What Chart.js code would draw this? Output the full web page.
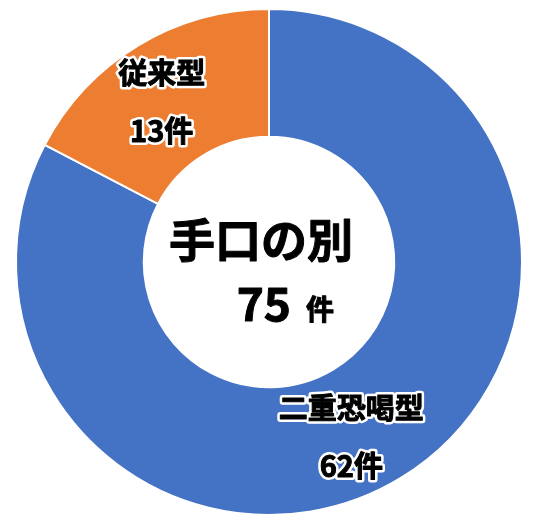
<!DOCTYPE html>
<html>
<head>
<meta charset="utf-8">
<script src="https://cdn.jsdelivr.net/npm/chart.js@4"></script>
<style>
  body { margin: 0; background: #fff; }
  #wrap { width: 536px; height: 527px; }
</style>
</head>
<body>
<div id="wrap"><canvas id="pieChart"></canvas></div>
<script>
var categories = ['二重恐喝型', '従来型'];
var counts = [62, 13];
var colors = ['#4472C4', '#ED7D31'];
var centerTitle = '手口の別';
var unit = '件';

var total = counts.reduce(function (a, b) { return a + b; }, 0);

function heavyText(ctx, t, x, y, halo) {
    if (halo) {
        ctx.strokeStyle = '#fff';
        ctx.lineWidth = halo;
        ctx.strokeText(t, x, y);
    }
    ctx.strokeStyle = '#000';
    ctx.lineWidth = 1;
    ctx.strokeText(t, x, y);
    ctx.fillStyle = '#000';
    ctx.fillText(t, x, y);
}

// ラベル（白縁取り）
var sliceLabels = {
    id: 'sliceLabels',
    afterDatasetsDraw: function (chart) {
        var ctx = chart.ctx;
        var meta = chart.getDatasetMeta(0);
        var shift = [[-16, 13], [-9, 2]];
        ctx.save();
        ctx.textAlign = 'center';
        ctx.textBaseline = 'middle';
        ctx.lineJoin = 'round';
        ctx.font = 'bold 29px "Noto Sans CJK JP"';
        meta.data.forEach(function (arc, i) {
            var mid = (arc.startAngle + arc.endAngle) / 2;
            var r = arc.outerRadius * 0.75;
            var x = arc.x + Math.cos(mid) * r + shift[i][0];
            var y = arc.y + Math.sin(mid) * r + shift[i][1];
            heavyText(ctx, categories[i], x, y - 29, 6);
            heavyText(ctx, counts[i] + unit, x, y + 29, 6);
        });

        // 中央テキスト
        var c = meta.data[0];
        ctx.font = 'bold 46px "Noto Sans CJK JP"';
        heavyText(ctx, centerTitle, c.x - 8, c.y - 22, 0);
        ctx.font = 'bold 46px "Noto Sans CJK JP"';
        ctx.textAlign = 'right';
        heavyText(ctx, String(total), c.x + 22, c.y + 42, 0);
        ctx.font = 'bold 28px "Noto Sans CJK JP"';
        ctx.textAlign = 'left';
        heavyText(ctx, unit, c.x + 37, c.y + 47, 0);
        ctx.restore();
    }
};

var ctxPie = document.getElementById('pieChart').getContext('2d');
var pieChart = new Chart(ctxPie, {
    type: 'doughnut',
    data: {
        labels: categories,
        datasets: [{
            data: counts,
            backgroundColor: colors,
            borderColor: '#fff',
            borderWidth: 2
        }]
    },
    options: {
        responsive: true,
        maintainAspectRatio: false,
        animation: false,
        cutout: '49.5%',
        layout: { padding: { top: 8, bottom: 11, left: 15, right: 13 } },
        plugins: {
            legend: { display: false },
            tooltip: { enabled: false }
        }
    },
    plugins: [sliceLabels]
});
</script>
</body>
</html>
